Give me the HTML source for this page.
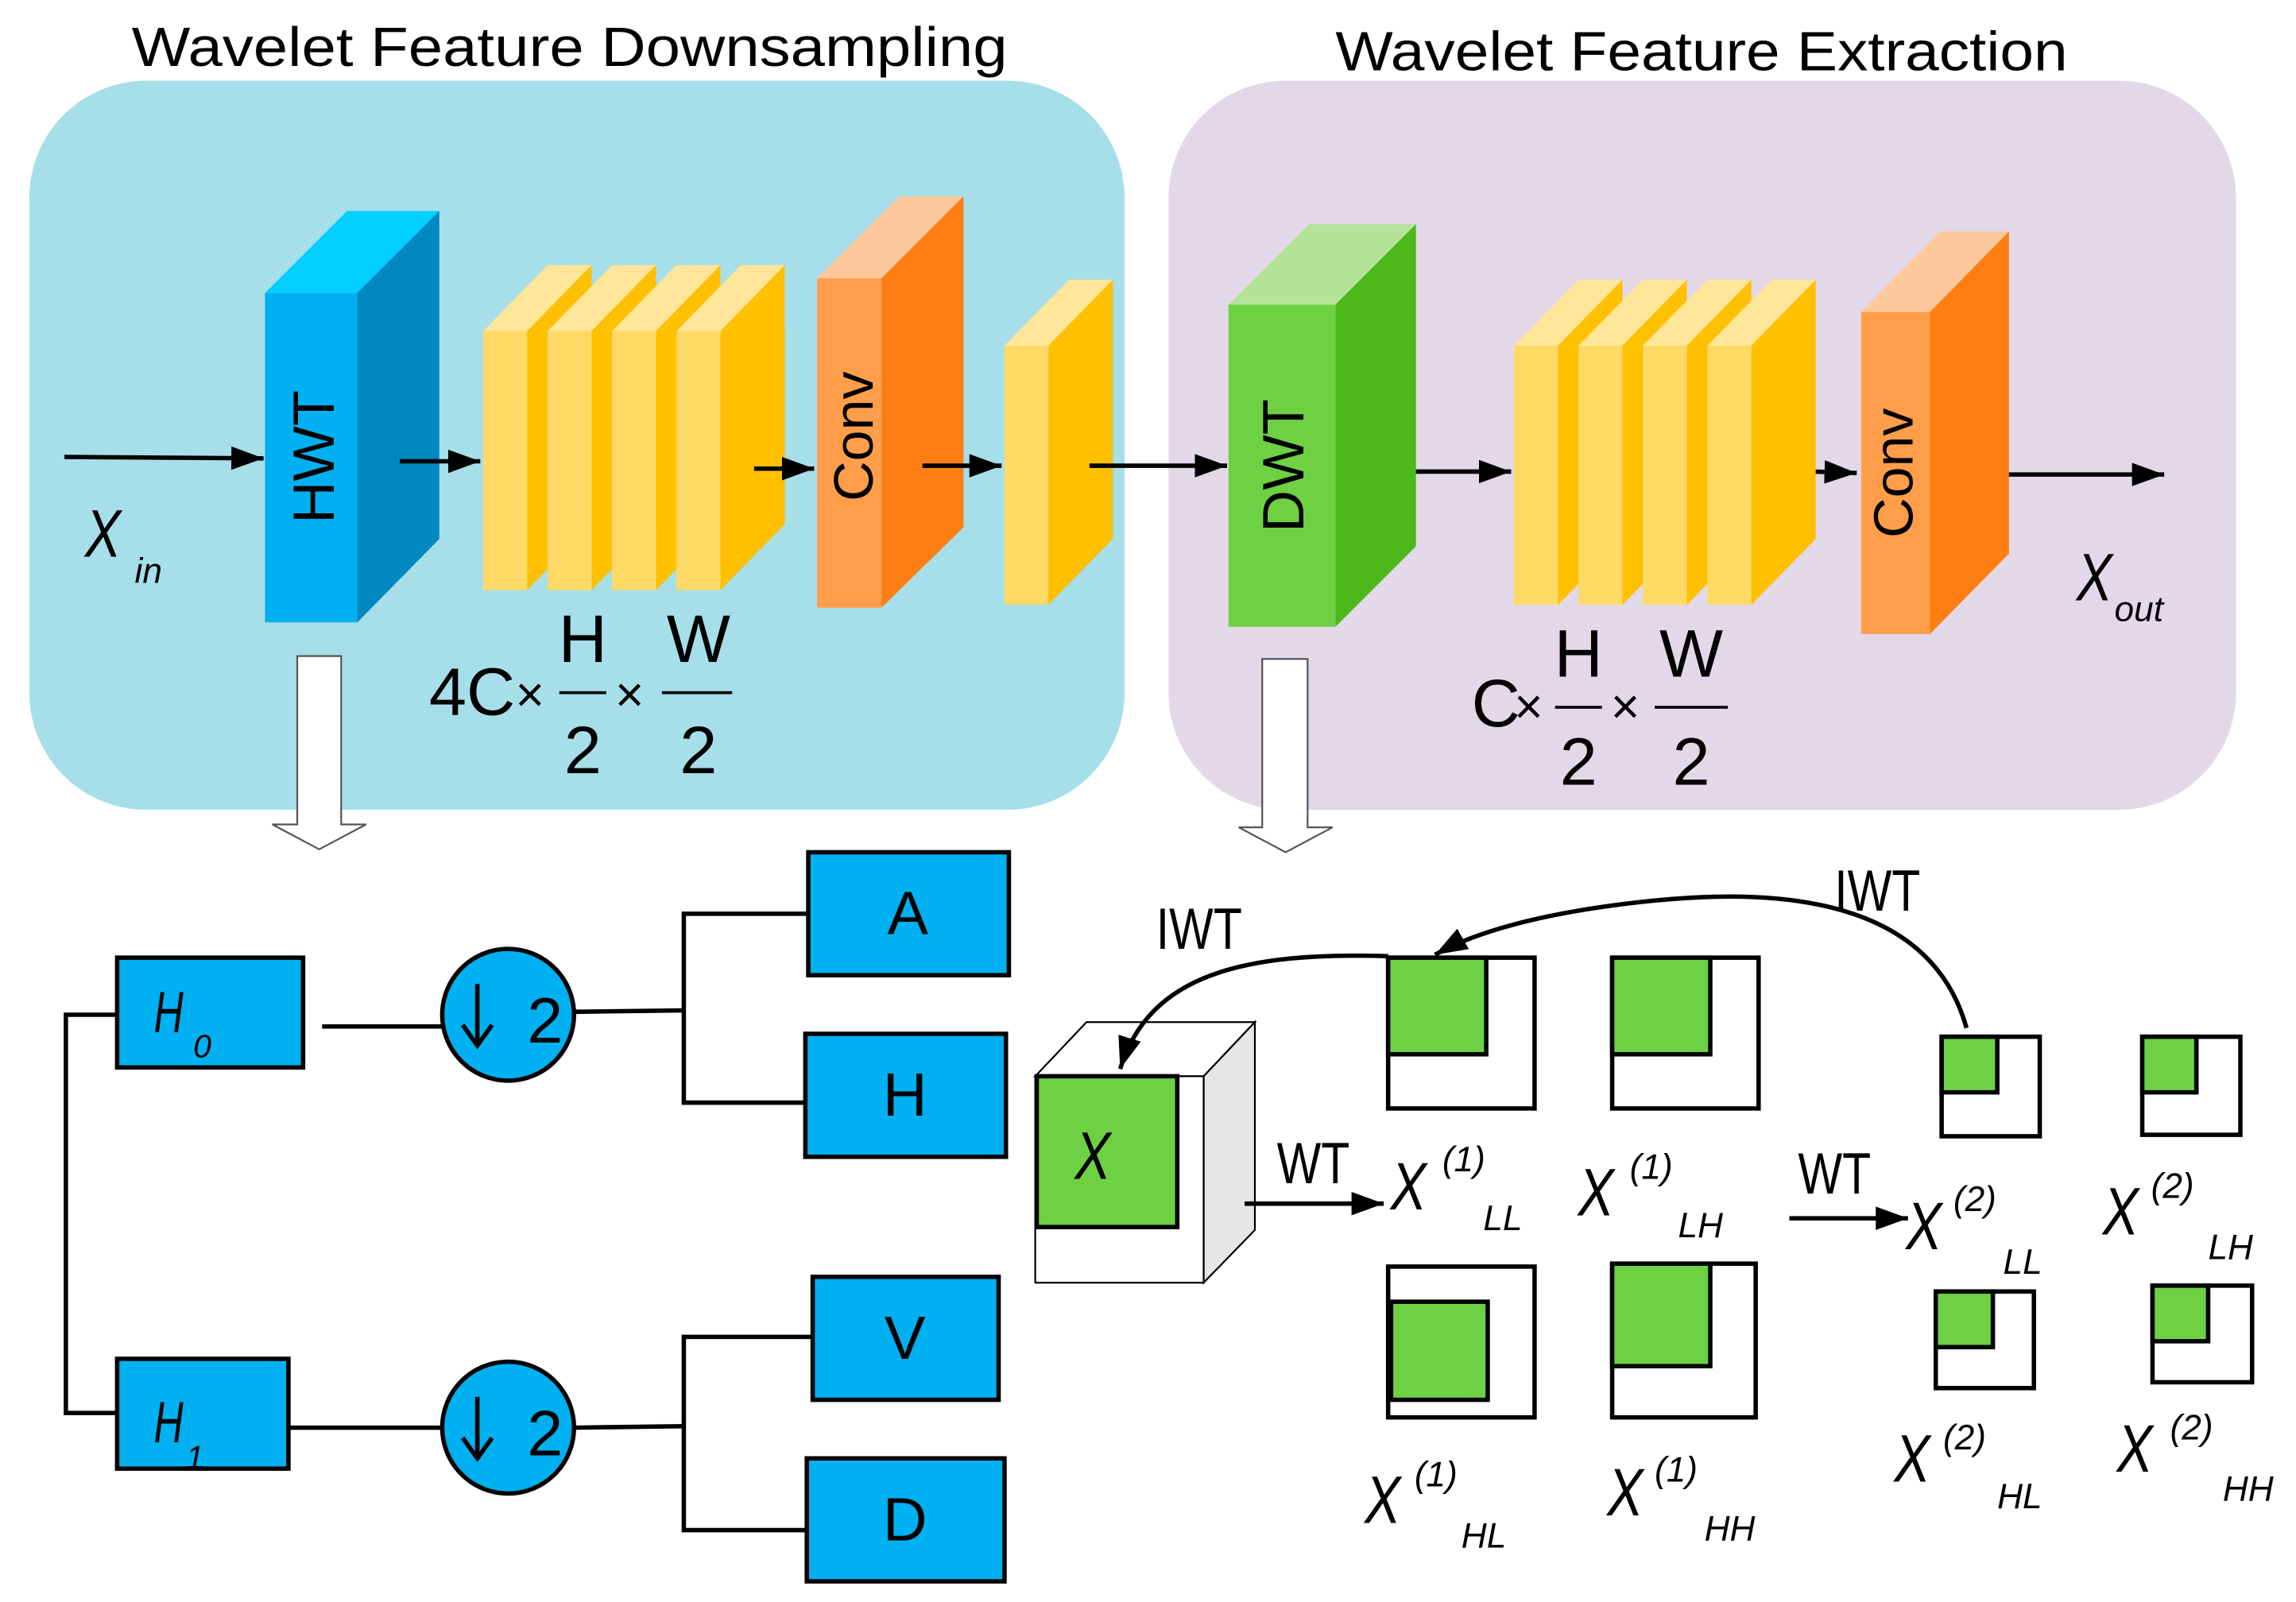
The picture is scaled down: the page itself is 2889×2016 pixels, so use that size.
<!DOCTYPE html>
<html><head><meta charset="utf-8"><style>html,body{margin:0;padding:0;background:#fff}svg{display:block}</style></head>
<body>
<svg xmlns="http://www.w3.org/2000/svg" width="2889" height="2016" viewBox="0 0 1568 1094" font-family="Liberation Sans, sans-serif">
<defs>
<marker id="a2" viewBox="0 0 10 10" markerWidth="22" markerHeight="16" refX="10" refY="5" orient="auto" markerUnits="userSpaceOnUse" preserveAspectRatio="none"><path d="M0,0 L10,5 L0,10 z"/></marker>
</defs>
<text x="90" y="45" font-size="38" textLength="598" lengthAdjust="spacingAndGlyphs">Wavelet  Feature  Downsampling</text>
<text x="912" y="48" font-size="38" textLength="500" lengthAdjust="spacingAndGlyphs">Wavelet  Feature Extraction</text>
<rect x="20" y="55" width="748" height="498" rx="80" fill="#a6dfe9"/>
<rect x="798" y="55" width="729" height="498" rx="80" fill="#e2d8e8"/>

<polygon points="181,200 244,200 300,144 237,144" fill="#00cfff"/>
<polygon points="244,200 300,144 300,368 244,425" fill="#0088c0"/>
<rect x="181" y="200" width="63" height="225" fill="#00b0f0"/>
<text transform="translate(228,312) rotate(-90)" font-size="40" text-anchor="middle">HWT</text>

<g id="sl">
<polygon points="330,226 360,226 404,181 374,181" fill="#ffe699"/>
<polygon points="360,226 404,181 404,358 360,403" fill="#ffc000"/>
<rect x="330" y="226" width="30" height="177" fill="#ffd966"/>
</g>
<use href="#sl" x="44"/><use href="#sl" x="88"/><use href="#sl" x="132"/>

<polygon points="558,190 602,190 658,134 614,134" fill="#fdc89c"/>
<polygon points="602,190 658,134 658,360 602,415" fill="#fd7f14"/>
<rect x="558" y="190" width="44" height="225" fill="#ff9e4a"/>
<text transform="translate(596,298) rotate(-90)" font-size="38" text-anchor="middle">Conv</text>

<use href="#sl" x="356" y="10"/>

<g stroke="#000" stroke-width="3" marker-end="url(#a2)" fill="none">
<line x1="44" y1="312" x2="180" y2="313"/>
<line x1="273" y1="315" x2="328" y2="315"/>
<line x1="515" y1="320" x2="556" y2="320"/>
<line x1="630" y1="318" x2="684" y2="318"/>
<line x1="744" y1="318" x2="838" y2="318"/>
<line x1="948" y1="322" x2="1032" y2="322"/>
<line x1="1210" y1="321" x2="1268" y2="323"/>
<line x1="1348" y1="324" x2="1478" y2="324"/>
</g>
<text x="58" y="380" font-size="46" font-style="italic" transform="scale(0.8,1)" transform-origin="58 380">X</text>
<text x="92" y="398" font-size="24" font-style="italic">in</text>

<text x="293" y="488" font-size="46">4C</text>
<text x="352" y="486" font-size="34">×</text>
<text x="398" y="452" font-size="46" text-anchor="middle">H</text>
<line x1="382" y1="473" x2="414" y2="473" stroke="#000" stroke-width="2"/>
<text x="398" y="528" font-size="46" text-anchor="middle">2</text>
<text x="420" y="486" font-size="34">×</text>
<text x="477" y="452" font-size="46" text-anchor="middle">W</text>
<line x1="452" y1="473" x2="500" y2="473" stroke="#000" stroke-width="2"/>
<text x="477" y="528" font-size="46" text-anchor="middle">2</text>

<polygon points="839,208 912,208 967,153 894,153" fill="#b5e39a"/>
<polygon points="912,208 967,153 967,373 912,428" fill="#4cb81a"/>
<rect x="839" y="208" width="73" height="220" fill="#6dd143"/>
<text transform="translate(890,318) rotate(-90)" font-size="40" text-anchor="middle">DWT</text>

<use href="#sl" x="704" y="10"/><use href="#sl" x="748" y="10"/><use href="#sl" x="792" y="10"/><use href="#sl" x="836" y="10"/>

<polygon points="1271,213 1318,213 1372,158 1325,158" fill="#fdc89c"/>
<polygon points="1318,213 1372,158 1372,378 1318,433" fill="#fd7f14"/>
<rect x="1271" y="213" width="47" height="220" fill="#ff9e4a"/>
<text transform="translate(1306,323) rotate(-90)" font-size="38" text-anchor="middle">Conv</text>

<text x="1418" y="410" font-size="46" font-style="italic" transform="scale(0.8,1)" transform-origin="1418 410">X</text>
<text x="1444" y="424" font-size="24" font-style="italic">out</text>

<text x="1005" y="496" font-size="46">C</text>
<text x="1034" y="494" font-size="34">×</text>
<text x="1078" y="462" font-size="46" text-anchor="middle">H</text>
<line x1="1062" y1="483" x2="1094" y2="483" stroke="#000" stroke-width="2"/>
<text x="1078" y="536" font-size="46" text-anchor="middle">2</text>
<text x="1100" y="494" font-size="34">×</text>
<text x="1155" y="462" font-size="46" text-anchor="middle">W</text>
<line x1="1130" y1="483" x2="1180" y2="483" stroke="#000" stroke-width="2"/>
<text x="1155" y="536" font-size="46" text-anchor="middle">2</text>

<g fill="#fff" stroke="#555" stroke-width="1.2">
<path d="M203,448 L233,448 L233,563 L250,563 L218,580 L186,563 L203,563 Z"/>
<path d="M862,450 L893,450 L893,565 L910,565 L878,582 L846,565 L862,565 Z"/>
</g>

<g stroke="#000" stroke-width="3" fill="none">
<polyline points="80,693 45,693 45,965 80,965"/>
<line x1="220" y1="701" x2="302" y2="701"/>
<line x1="197" y1="975" x2="302" y2="975"/>
<line x1="392" y1="691" x2="467" y2="690"/>
<polyline points="552,624 467,624 467,753 550,753"/>
<line x1="392" y1="975" x2="467" y2="974"/>
<polyline points="555,913 467,913 467,1045 551,1045"/>
</g>
<g fill="#00b0f0" stroke="#000" stroke-width="3">
<rect x="80" y="654" width="127" height="75"/>
<rect x="80" y="928" width="117" height="75"/>
<circle cx="347" cy="693" r="45"/>
<circle cx="347" cy="975" r="45"/>
<rect x="552" y="582" width="137" height="84"/>
<rect x="550" y="706" width="137" height="84"/>
<rect x="555" y="872" width="127" height="84"/>
<rect x="551" y="996" width="135" height="84"/>
</g>
<text x="105" y="705" font-size="40" font-style="italic" transform="scale(0.7,1)" transform-origin="105 705">H</text>
<text x="132" y="722" font-size="22" font-style="italic">0</text>
<text x="105" y="985" font-size="40" font-style="italic" transform="scale(0.7,1)" transform-origin="105 985">H</text>
<text x="127" y="1003" font-size="22" font-style="italic">1</text>
<g stroke="#000" stroke-width="3" fill="none">
<line x1="326" y1="672" x2="326" y2="712"/><polyline points="316,700 326,714 336,700"/>
<line x1="326" y1="954" x2="326" y2="994"/><polyline points="316,982 326,996 336,982"/>
</g>
<text x="360" y="712" font-size="44">2</text>
<text x="360" y="994" font-size="44">2</text>
<text x="620" y="638" font-size="42" text-anchor="middle">A</text>
<text x="618" y="762" font-size="42" text-anchor="middle">H</text>
<text x="618" y="928" font-size="42" text-anchor="middle">V</text>
<text x="618" y="1052" font-size="42" text-anchor="middle">D</text>

<g stroke="#000" stroke-width="1.2">
<polygon points="707,735 822,735 857,698 742,698" fill="#fff"/>
<polygon points="822,735 857,698 857,840 822,876" fill="#e6e6e6"/>
<rect x="707" y="735" width="115" height="141" fill="#fff"/>
</g>
<rect x="708" y="735" width="96" height="103" fill="#6dd143" stroke="#000" stroke-width="3"/>
<text x="734" y="805" font-size="46" font-style="italic" transform="scale(0.8,1)" transform-origin="734 805">X</text>

<g stroke="#000" stroke-width="3">
<rect x="948" y="654" width="100" height="103" fill="#fff"/><rect x="948" y="654" width="67" height="66" fill="#6dd143"/>
<rect x="1101" y="654" width="100" height="103" fill="#fff"/><rect x="1101" y="654" width="67" height="66" fill="#6dd143"/>
<rect x="948" y="865" width="100" height="103" fill="#fff"/><rect x="950" y="889" width="66" height="67" fill="#6dd143"/>
<rect x="1101" y="863" width="98" height="105" fill="#fff"/><rect x="1101" y="863" width="67" height="70" fill="#6dd143"/>
<rect x="1326" y="708" width="67" height="68" fill="#fff"/><rect x="1326" y="708" width="38" height="38" fill="#6dd143"/>
<rect x="1463" y="708" width="67" height="67" fill="#fff"/><rect x="1463" y="708" width="37" height="38" fill="#6dd143"/>
<rect x="1322" y="882" width="67" height="66" fill="#fff"/><rect x="1322" y="882" width="39" height="38" fill="#6dd143"/>
<rect x="1470" y="878" width="68" height="66" fill="#fff"/><rect x="1470" y="878" width="38" height="38" fill="#6dd143"/>
</g>

<g stroke="#000" stroke-width="3" fill="none" marker-end="url(#a2)">
<line x1="850" y1="822" x2="945" y2="822"/>
<line x1="1222" y1="832" x2="1303" y2="832"/>
<path d="M948,653 C850,650 785,665 765,730"/>
<path d="M1343,702 C1320,620 1230,605 1130,615 C1060,622 1010,635 980,652"/>
</g>
<g font-size="40" transform="scale(0.8,1)">
<text x="1090" y="808">WT</text>
<text x="1535" y="815">WT</text>
<text x="987" y="648">IWT</text>
<text x="1566" y="622">IWT</text>
</g>

<g font-style="italic">
<g font-size="46" transform="scale(0.8,1)">
<text x="1187" y="826">X</text>
<text x="1347" y="830">X</text>
<text x="1627" y="853">X</text>
<text x="1795" y="843">X</text>
<text x="1165" y="1040">X</text>
<text x="1372" y="1035">X</text>
<text x="1617" y="1012">X</text>
<text x="1807" y="1005">X</text>
</g>
<g font-size="24">
<text x="985" y="800">(1)</text><text x="1013" y="840">LL</text>
<text x="1113" y="805">(1)</text><text x="1146" y="845">LH</text>
<text x="1334" y="827">(2)</text><text x="1368" y="870">LL</text>
<text x="1469" y="818">(2)</text><text x="1508" y="860">LH</text>
<text x="966" y="1015">(1)</text><text x="998" y="1057">HL</text>
<text x="1130" y="1012">(1)</text><text x="1164" y="1052">HH</text>
<text x="1327" y="990">(2)</text><text x="1364" y="1030">HL</text>
<text x="1482" y="983">(2)</text><text x="1518" y="1025">HH</text>
</g>
</g>
</svg>
</body></html>
